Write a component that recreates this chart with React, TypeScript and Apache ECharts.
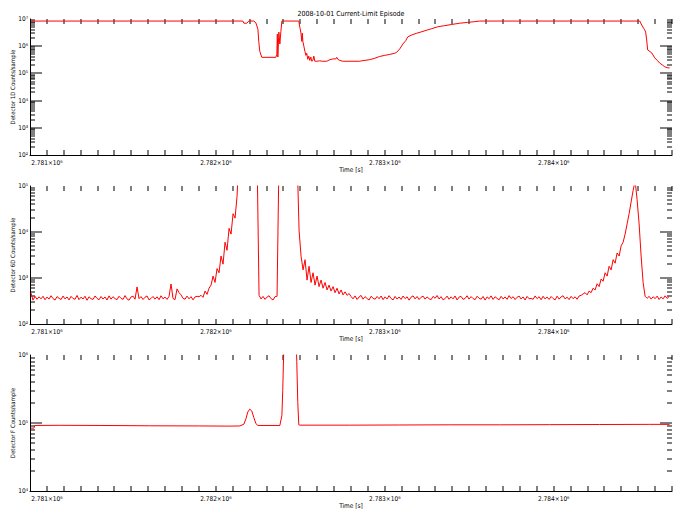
import { useEffect, useRef } from 'react';
import * as echarts from 'echarts';

const TITLE = '2008-10-01 Current-Limit Episode';
const X_NAME = 'Time [s]';
const Y_NAMES = ['Detector 1D Counts/sample', 'Detector 6D Counts/sample', 'Detector F Counts/sample'];
const X_MIN = 2780900;
const X_MAX = 2784700;
const X_STEP = 100;
const X_LABEL_STEP = 1000;
const Y_RANGES: number[][] = [[1e2, 1e7], [1e2, 1e5], [1e4, 1e6]];

// Panel 1: [time (s), counts/sample]
const panel1: number[][] = [
  [2780905, 8.4e6], [2782160, 8.4e6], [2782166, 7.0e6], [2782183, 7.0e6], [2782195, 8.4e6],
  [2782225, 8.4e6], [2782237, 7.2e6], [2782249, 4.2e6], [2782254, 1.5e6], [2782260, 6.5e5],
  [2782272, 3.9e5], [2782355, 3.9e5], [2782361, 5.0e5], [2782364, 2.8e6], [2782367, 4.0e5],
  [2782373, 3.3e6], [2782379, 1.2e6], [2782385, 3.5e6], [2782391, 8.4e6], [2782491, 8.4e6],
  [2782497, 5.0e6], [2782503, 3.3e6], [2782509, 1.5e6], [2782512, 3.0e6], [2782515, 1.5e6],
  [2782521, 1.0e6], [2782527, 6.5e5], [2782533, 4.6e5], [2782538, 5.5e5], [2782544, 3.3e5],
  [2782550, 4.3e5], [2782556, 3.0e5], [2782562, 4.0e5], [2782568, 2.8e5], [2782574, 3.0e5],
  [2782580, 4.3e5], [2782586, 2.8e5], [2782598, 2.8e5], [2782615, 2.9e5], [2782633, 2.8e5],
  [2782657, 2.8e5], [2782675, 3.2e5], [2782692, 3.4e5], [2782710, 3.4e5], [2782716, 3.9e5],
  [2782722, 3.3e5], [2782734, 3.0e5], [2782751, 2.8e5], [2782852, 2.8e5], [2782864, 2.9e5],
  [2782911, 3.2e5], [2782941, 3.6e5], [2782970, 4.2e5], [2783000, 4.6e5], [2783030, 5.0e5],
  [2783059, 5.5e5], [2783071, 6.0e5], [2783089, 8.0e5], [2783107, 1.2e6], [2783124, 1.6e6],
  [2783136, 2.2e6], [2783160, 2.6e6], [2783189, 3.0e6], [2783219, 3.4e6], [2783249, 3.9e6],
  [2783278, 4.4e6], [2783314, 5.2e6], [2783355, 5.7e6], [2783396, 6.3e6], [2783444, 7.0e6],
  [2783491, 7.5e6], [2783533, 8.0e6], [2783562, 8.4e6], [2784509, 8.4e6], [2784521, 6.0e6],
  [2784532, 4.6e6], [2784538, 4.0e6], [2784544, 3.3e6], [2784550, 1.7e6], [2784556, 7.3e5],
  [2784580, 5.7e5], [2784598, 3.7e5], [2784615, 2.9e5], [2784627, 2.4e5], [2784645, 2.0e5],
  [2784657, 1.75e5], [2784675, 1.6e5], [2784686, 1.6e5],
];

// Panel 2: evenly sampled counts, sample clock start and cadence
const P2_T0 = 2780906;
const P2_DT = 11.84;
const panel2Counts: number[] = [
  470, 330, 400, 345, 390, 352, 401, 337, 385, 348,
  412, 356, 331, 394, 362, 340, 405, 351, 387, 334,
  399, 358, 345, 418, 339, 383, 350, 402, 328, 391,
  354, 342, 407, 360, 336, 396, 349, 386, 332, 409,
  347, 393, 356, 338, 401, 361, 344, 415, 352, 329,
  388, 403, 346, 640, 355, 395, 341, 382, 408, 334,
  359, 397, 348, 390, 337, 411, 353, 385, 342, 400,
  740, 357, 339, 580, 480, 430, 361, 346, 404, 352,
  393, 335, 388, 400, 392, 420, 380, 520, 440, 600,
  700, 1100, 800, 1600, 1300, 3000, 2000, 6000, 4000, 12000,
  9000, 25000, 20000, 60000, 500000, 500000, 500000, 500000, 500000, 500000,
  500000, 500000, 500000, 500000, 420, 350, 398, 342, 385, 411,
  356, 333, 394, 400, 500000, 500000, 500000, 500000, 500000, 500000,
  500000, 500000, 500000, 500000, 11000, 3000, 1500, 2500, 900, 1800,
  800, 1300, 700, 1100, 650, 900, 600, 800, 550, 700,
  520, 650, 480, 600, 450, 550, 430, 500, 420, 460,
  395, 352, 408, 341, 386, 419, 347, 393, 358, 332,
  401, 363, 345, 397, 354, 406, 338, 389, 350, 413,
  359, 334, 398, 348, 386, 342, 405, 356, 391, 330,
  384, 409, 351, 396, 340, 381, 403, 347, 388, 354,
  338, 399, 362, 416, 349, 393, 335, 357, 404, 345,
  390, 352, 407, 333, 385, 398, 343, 360, 411, 348,
  394, 356, 339, 402, 363, 346, 397, 331, 388, 355,
  409, 342, 391, 359, 336, 400, 351, 386, 344, 414,
  357, 393, 340, 382, 405, 349, 387, 333, 398, 353,
  361, 344, 408, 356, 392, 337, 401, 350, 385, 342,
  396, 358, 334, 403, 347, 389, 411, 352, 383, 339,
  399, 355, 390, 345, 406, 420, 450, 480, 430, 520,
  480, 600, 550, 750, 650, 950, 850, 1300, 1100, 1800,
  1500, 2500, 2100, 3500, 3000, 5000, 6000, 9000, 15000, 25000,
  45000, 80000, 130000, 50000, 15000, 3000, 800, 400, 362, 399,
  348, 391, 356, 404, 341, 387, 352, 410, 359, 394,
];

// Panel 3: [time (s), counts/sample]
const panel3: number[][] = [
  [2780905, 84000], [2780923, 84000], [2780929, 92000], [2781077, 92500], [2781314, 92000],
  [2781609, 91000], [2781905, 90500], [2782083, 90000], [2782142, 90500], [2782166, 96000],
  [2782178, 115000], [2782189, 145000], [2782201, 160000], [2782213, 150000], [2782225, 120000],
  [2782237, 98000], [2782249, 92000], [2782379, 92000], [2782391, 130000], [2782396, 300000],
  [2782402, 1.2e6], [2782408, 3e6], [2782473, 3e6], [2782479, 8e5], [2782485, 2e5],
  [2782491, 94000], [2782497, 93000], [2782793, 93000], [2783089, 93500], [2783385, 94000],
  [2783680, 94000], [2783976, 94500], [2784272, 95000], [2784568, 95500], [2784686, 95500],
];

const FONT = 'DejaVu Sans Condensed, DejaVu Sans, sans-serif';
const SUP = '⁰¹²³⁴⁵⁶⁷⁸⁹';
const sup = (n: number) => String(n).split('').map((c) => SUP[Number(c)]).join('');

const GRIDS = [
  { left: 30, right: 11, top: 19, height: 136, outerBoundsMode: 'none', containLabel: false },
  { left: 30, right: 11, top: 186, height: 138, outerBoundsMode: 'none', containLabel: false },
  { left: 30, right: 11, top: 355, height: 136, outerBoundsMode: 'none', containLabel: false },
];

export default function App() {
  const ref = useRef<HTMLDivElement>(null);
  useEffect(() => {
    if (!ref.current) return;
    const chart = echarts.init(ref.current, undefined, { renderer: 'svg' });
    const black = '#000000';
    const xAxes: any[] = [];
    const yAxes: any[] = [];
    const series: any[] = [];
    const datasets = [panel1, panel2Counts.map((v, i) => [P2_T0 + i * P2_DT, v]), panel3];

    GRIDS.forEach((_, g) => {
      xAxes.push({
        type: 'value', gridIndex: g, min: X_MIN, max: X_MAX, interval: X_STEP,
        axisLine: { show: true, onZero: false, lineStyle: { color: black, width: 1 } },
        axisTick: { show: false },
        splitLine: { show: false },
        name: X_NAME, nameLocation: 'middle', nameGap: 11, nameMoveOverlap: false,
        nameTextStyle: { fontSize: 6.5, color: black, fontFamily: FONT },
        axisLabel: {
          fontSize: 6.5, color: black, fontFamily: FONT, margin: 4,
          formatter: (v: number) => (Math.round(v) % X_LABEL_STEP === 0 ? `${(v / 1e6).toFixed(3)}×10⁶` : ''),
        },
      });
      const [ymin, ymax] = Y_RANGES[g];
      yAxes.push({
        type: 'log', gridIndex: g, min: ymin, max: ymax,
        axisLine: { show: true, onZero: false, lineStyle: { color: black, width: 1 } },
        axisTick: { show: false },
        splitLine: { show: false },
        name: Y_NAMES[g], nameLocation: 'middle', nameGap: 15, nameRotate: 90, nameMoveOverlap: false,
        nameTextStyle: { fontSize: 6, color: black, fontFamily: FONT },
        axisLabel: {
          fontSize: 6.5, color: black, fontFamily: FONT, margin: 2,
          formatter: (v: number) => '10' + sup(Math.round(Math.log10(v))),
        },
      });

      // frame ticks: minor log ticks (2..9 x 10^n), decade ticks, and time ticks on top and bottom
      const marks: number[][] = [];
      const e0 = Math.round(Math.log10(ymin));
      const e1 = Math.round(Math.log10(ymax));
      for (let e = e0; e < e1; e++) {
        for (let k = 2; k <= 9; k++) marks.push([X_MIN, k * Math.pow(10, e), 0]);
      }
      for (let e = e0 + 1; e < e1; e++) marks.push([X_MIN, Math.pow(10, e), 1]);
      const nT = Math.floor((X_MAX - X_MIN) / X_STEP);
      for (let k = 1; k <= nT; k++) marks.push([X_MIN + k * X_STEP, ymax, 2]);
      series.push({
        type: 'custom', xAxisIndex: g, yAxisIndex: g, clip: false, silent: true, data: marks,
        renderItem: (params: any, api: any) => {
          const kind = api.value(2);
          const cs = params.coordSys;
          const st = { fill: black };
          if (kind === 2) {
            const px = Math.round(api.coord([api.value(0), ymax])[0]) - 0.5;
            const top = Math.round(cs.y);
            const bottom = Math.round(cs.y + cs.height);
            return {
              type: 'group',
              children: [
                { type: 'rect', shape: { x: px, y: top, width: 1, height: 5 }, style: st },
                { type: 'rect', shape: { x: px, y: bottom - 5, width: 1, height: 5 }, style: st },
              ],
            };
          }
          const len = kind === 1 ? 12 : 5;
          const py = Math.round(api.coord([X_MIN, api.value(1)])[1]) - 0.5;
          const left = Math.round(cs.x);
          const right = Math.round(cs.x + cs.width);
          return {
            type: 'group',
            children: [
              { type: 'rect', shape: { x: left, y: py, width: len, height: 1 }, style: st },
              { type: 'rect', shape: { x: right - len, y: py, width: len, height: 1 }, style: st },
            ],
          };
        },
      });

      series.push({
        type: 'line', xAxisIndex: g, yAxisIndex: g,
        data: datasets[g], showSymbol: false, symbol: 'none', clip: true,
        lineStyle: { color: '#ff0000', width: 1 },
      });
    });

    chart.setOption({
      animation: false,
      title: {
        text: TITLE, left: 351, top: 10, padding: 0, textAlign: 'center',
        textStyle: { fontSize: 7, fontFamily: FONT, color: black, fontWeight: 'normal' },
      },
      grid: GRIDS,
      xAxis: xAxes,
      yAxis: yAxes,
      series,
    });
    return () => chart.dispose();
  }, []);
  return <div ref={ref} style={{ position: 'fixed', left: 0, top: 0, width: 683, height: 518, background: '#fff' }} />;
}
